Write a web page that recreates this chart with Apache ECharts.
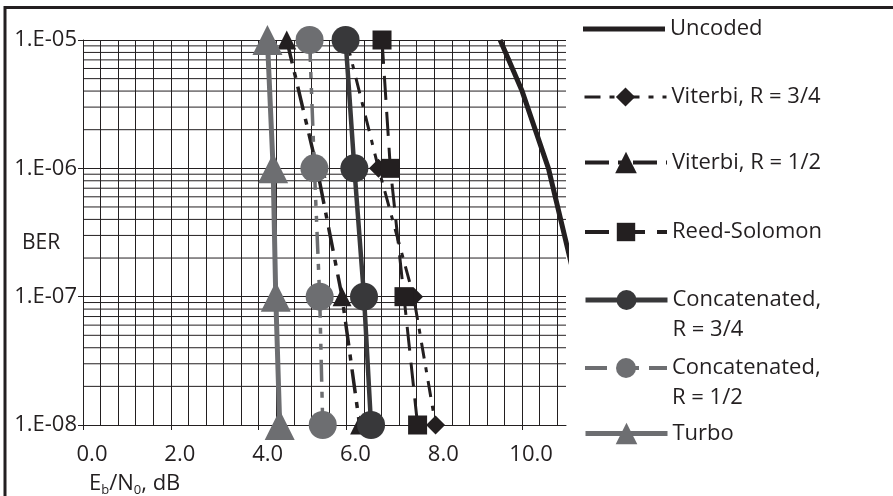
<!DOCTYPE html>
<html><head><meta charset="utf-8">
<script src="https://cdn.jsdelivr.net/npm/echarts@6/dist/echarts.min.js"></script>
<style>html,body{margin:0;padding:0;background:#fff}#c{width:893px;height:496px}</style>
</head><body><div id="c"></div>
<script>
// ---- data ----
const berLevels = [1e-5, 1e-6, 1e-7, 1e-8];
const uncodedBer = [1e-5, 4e-6, 1e-6, 1e-7];
const uncodedEbN0 = [9.5, 10.0, 10.6, 11.3];
const viterbi34 = [6.0, 6.73, 7.53, 8.03];
const viterbi12 = [4.64, 5.33, 5.9, 6.3];
const reedSolomon = [6.81, 7.0, 7.31, 7.62];
const concat34 = [5.98, 6.18, 6.4, 6.56];
const concat12 = [5.16, 5.27, 5.39, 5.46];
const turbo = [4.2, 4.33, 4.39, 4.48];
const xTicks = [0, 2, 4, 6, 8, 10];
const yTickLabels = {'-5': '1.E-05', '-6': '1.E-06', '-7': '1.E-07', '-8': '1.E-08'};
const seriesNames = ['Uncoded', 'Viterbi, R = 3/4', 'Viterbi, R = 1/2', 'Reed-Solomon',
  'Concatenated, R = 3/4', 'Concatenated, R = 1/2', 'Turbo'];
// grid-line helpers (axis values, not data)
const minorMultipliers = [2, 3, 4, 5, 6, 7, 8, 9];
const minorDecades = [1e-8, 1e-7, 1e-6];
const xGridStep = 0.4, xMax = 11;

const BLACK = '#231f20', DARK = '#38383a', GREY = '#6d6e71';
const FONT = 'Open Sans';

const pairs = (xs, ys) => xs.map((x, i) => [x, ys[i]]);

const vLines = [];
for (let k = 1; k * xGridStep < xMax - 1e-9; k++) vLines.push({xAxis: +(k * xGridStep).toFixed(2)});

// horizontal minor grid lines drawn through the log axis as plain line series
const hGrid = [];
minorDecades.forEach(d => minorMultipliers.forEach(m => {
  const v = m * d;
  hGrid.push({
    name: 'hgrid', type: 'line', data: [[0, v], [xMax, v]], symbol: 'none', z: 1,
    silent: true, animation: false, lineStyle: {color: BLACK, width: 1},
    emphasis: {disabled: true}, tooltip: {show: false}
  });
}));

function line(name, xs, ys, color, width, type, symbol, size) {
  return {
    name, type: 'line', data: pairs(xs, ys), z: 3,
    symbol, symbolSize: size, showSymbol: symbol !== 'none',
    lineStyle: {color, width, type, cap: 'butt'},
    itemStyle: {color, borderWidth: 0},
    animation: false, clip: true
  };
}

const series = [
  {
    name: 'vgrid', type: 'line', data: [[0, 1e-8]], symbol: 'none', z: 1,
    lineStyle: {opacity: 0}, silent: true, animation: false,
    markLine: {
      silent: true, symbol: 'none', z: 1, animation: false,
      label: {show: false},
      lineStyle: {color: BLACK, width: 1, type: 'solid'},
      emphasis: {disabled: true},
      data: vLines
    }
  },
  ...hGrid,
  line(seriesNames[0], uncodedEbN0, uncodedBer, BLACK, 5, 'solid', 'none', 0),
  line(seriesNames[1], viterbi34, berLevels, BLACK, 3, [16, 9, 5, 9], 'diamond', 19),
  line(seriesNames[2], viterbi12, berLevels, BLACK, 3.5, [24, 9, 6, 9], 'triangle', 19),
  line(seriesNames[3], reedSolomon, berLevels, BLACK, 3, [24, 12], 'rect', 19),
  line(seriesNames[4], concat34, berLevels, DARK, 4.5, 'solid', 'circle', 28),
  line(seriesNames[5], concat12, berLevels, GREY, 3.5, [22, 10, 6, 10, 6, 10], 'circle', 28),
  line(seriesNames[6], turbo, berLevels, GREY, 5, 'solid', 'triangle', 30)
];

// one legend per entry so each can be placed exactly
const legendCenters = [29, 97, 164, 232, 300, 368, 435];
const legendSpecs = [
  {h: 5, lw: 5, icon: 'rect', two: false},
  {h: 24, lw: 3, two: false},
  {h: 27, lw: 4, two: false},
  {h: 23, lw: 4, two: false},
  {h: 25, lw: 5, two: true},
  {h: 25, lw: 4, two: true},
  {h: 27, lw: 5, two: false}
];
const legends = seriesNames.map((name, i) => {
  const s = legendSpecs[i], c = legendCenters[i];
  let top;
  if (s.two) top = c - 45;
  else top = c - Math.max(s.h, 24) / 2;
  const item = {name};
  if (s.icon) item.icon = s.icon;
  return {
    data: [item], orient: 'vertical', left: 583, top, padding: 0,
    itemWidth: 82, itemHeight: s.h, itemGap: 0, selectedMode: false,
    lineStyle: {width: s.lw},
    formatter: n => s.two ? '\n' + n.replace(', R', ',\nR') : n,
    textStyle: s.two
      ? {fontFamily: FONT, fontSize: 22, color: BLACK, lineHeight: 30}
      : {fontFamily: FONT, fontSize: 22, color: BLACK, lineHeight: 24}
  };
});

const chart = echarts.init(document.getElementById('c'), null, {renderer: 'canvas'});
chart.setOption({
  animation: false,
  backgroundColor: '#fff',
  grid: {left: 83, right: 327, top: 40, bottom: 71, containLabel: false},
  legend: legends,
  xAxis: {
    type: 'value', min: 0, max: xMax, interval: 2,
    axisLine: {show: true, onZero: false, lineStyle: {color: BLACK, width: 1}},
    axisTick: {show: true, length: 5, customValues: xTicks, lineStyle: {color: BLACK}},
    axisLabel: {
      customValues: xTicks,
      formatter: v => v.toFixed(1), margin: 19, padding: [0, 0, 0, 18],
      fontFamily: FONT, fontSize: 22, color: BLACK
    },
    splitLine: {show: false}
  },
  yAxis: {
    type: 'log', logBase: 10, min: 1e-8, max: 1e-5,
    axisLine: {show: true, lineStyle: {color: BLACK, width: 1}},
    axisTick: {show: true, length: 5, lineStyle: {color: BLACK}},
    axisLabel: {
      formatter: v => yTickLabels[String(Math.round(Math.log10(v)))] || '',
      margin: 6, fontFamily: FONT, fontSize: 22, color: BLACK
    },
    splitLine: {show: true, lineStyle: {color: BLACK, width: 1}}
  },
  graphic: [
    {type: 'rect', shape: {x: 5, y: 7.5, width: 900, height: 500},
     style: {fill: 'none', stroke: BLACK, lineWidth: 3}, silent: true},
    {type: 'text', left: 22, top: 233,
     style: {text: 'BER', fontFamily: FONT, fontSize: 21, fill: BLACK}},
    {type: 'text', left: 89, top: 473,
     style: {text: 'E{s|b}/N{s|0}, dB', fontFamily: FONT, fontSize: 22, fill: BLACK,
       rich: {s: {fontFamily: FONT, fontSize: 13, fill: BLACK, padding: [12, 0, 0, 0]}}}}
  ],
  series
});
</script></body></html>
